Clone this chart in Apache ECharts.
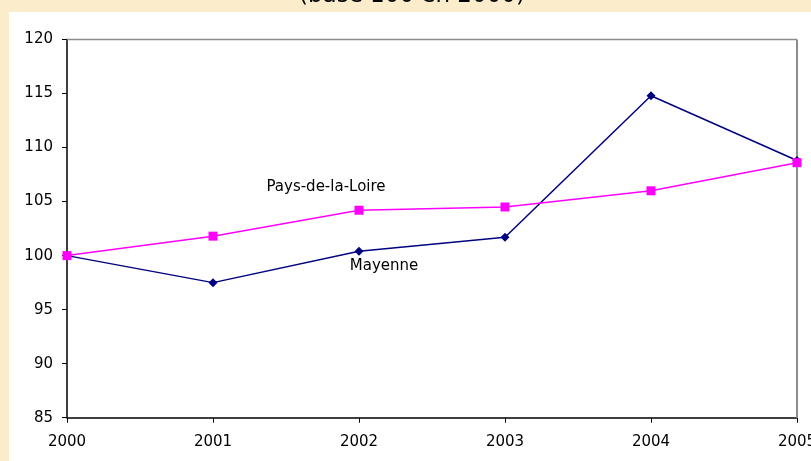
<!DOCTYPE html>
<html><head><meta charset="utf-8">
<script src="https://cdn.jsdelivr.net/npm/echarts@6/dist/echarts.min.js"></script>
<style>html,body{margin:0;padding:0;}#c{width:811px;height:461px;}</style>
</head><body><div id="c"></div>
<script>
const years = ['2000','2001','2002','2003','2004','2005'];
const mayenne = [100, 97.5, 100.4, 101.7, 114.8, 108.8];
const paysDeLaLoire = [100, 101.8, 104.2, 104.5, 106.0, 108.6];
const yTicks = [85, 90, 95, 100, 105, 110, 115, 120];

const FONT = 'DejaVu Sans';
const chart = echarts.init(document.getElementById('c'), null, {renderer:'canvas'});
chart.setOption({
  animation: false,
  backgroundColor: '#fbedcc',
  title: {
    text: '(base 100 en 2000)',
    left: 294,
    top: -20,
    textStyle: {fontFamily: FONT, fontSize: 23, fontWeight: 'normal', color: '#000'}
  },
  graphic: [
    {type:'rect', z:-10, shape:{x:9, y:12, width:810, height:460}, style:{fill:'#ffffff'}},
    {type:'text', z:50, style:{text:'Pays-de-la-Loire', x:326, y:187, align:'center', verticalAlign:'middle', font:'15px "DejaVu Sans"', fill:'#000'}},
    {type:'text', z:50, style:{text:'Mayenne', x:384, y:266, align:'center', verticalAlign:'middle', font:'15px "DejaVu Sans"', fill:'#000'}},
    {type:'line', z:1, shape:{x1:67, y1:39.5, x2:797, y2:39.5}, style:{stroke:'#8c8c8c', lineWidth:1.5}},
    {type:'line', z:1, shape:{x1:797, y1:39.5, x2:797, y2:418}, style:{stroke:'#8c8c8c', lineWidth:2}}
  ],
  grid: {left: 67, right: 14, top: 39.5, bottom: 43.3, containLabel: false, outerBoundsMode: 'none'},
  xAxis: {
    type: 'category',
    data: years,
    boundaryGap: false,
    axisLine: {lineStyle: {color: '#000', width: 1.5}},
    axisTick: {length: 5, lineStyle: {color: '#000'}},
    axisLabel: {fontFamily: FONT, fontSize: 15, color: '#000', margin: 17, interval: 0},
    splitLine: {show: false}
  },
  yAxis: {
    type: 'value',
    min: yTicks[0], max: yTicks[yTicks.length-1], interval: 5,
    axisLine: {show: true, lineStyle: {color: '#000', width: 1.5}},
    axisTick: {show: true, length: 5, lineStyle: {color: '#000'}},
    axisLabel: {fontFamily: FONT, fontSize: 15, color: '#000', margin: 14},
    splitLine: {show: false}
  },
  series: [
    {
      name: 'Pays-de-la-Loire', type: 'line', data: paysDeLaLoire,
      symbol: 'rect', symbolSize: 9,
      lineStyle: {color: '#ff00ff', width: 1.5},
      itemStyle: {color: '#ff00ff'},
      z: 3
    },
    {
      name: 'Mayenne', type: 'line', data: mayenne,
      symbol: 'diamond', symbolSize: 9,
      lineStyle: {color: '#000080', width: 1.5},
      itemStyle: {color: '#000080'},
      z: 2
    }
  ]
});
</script></body></html>
